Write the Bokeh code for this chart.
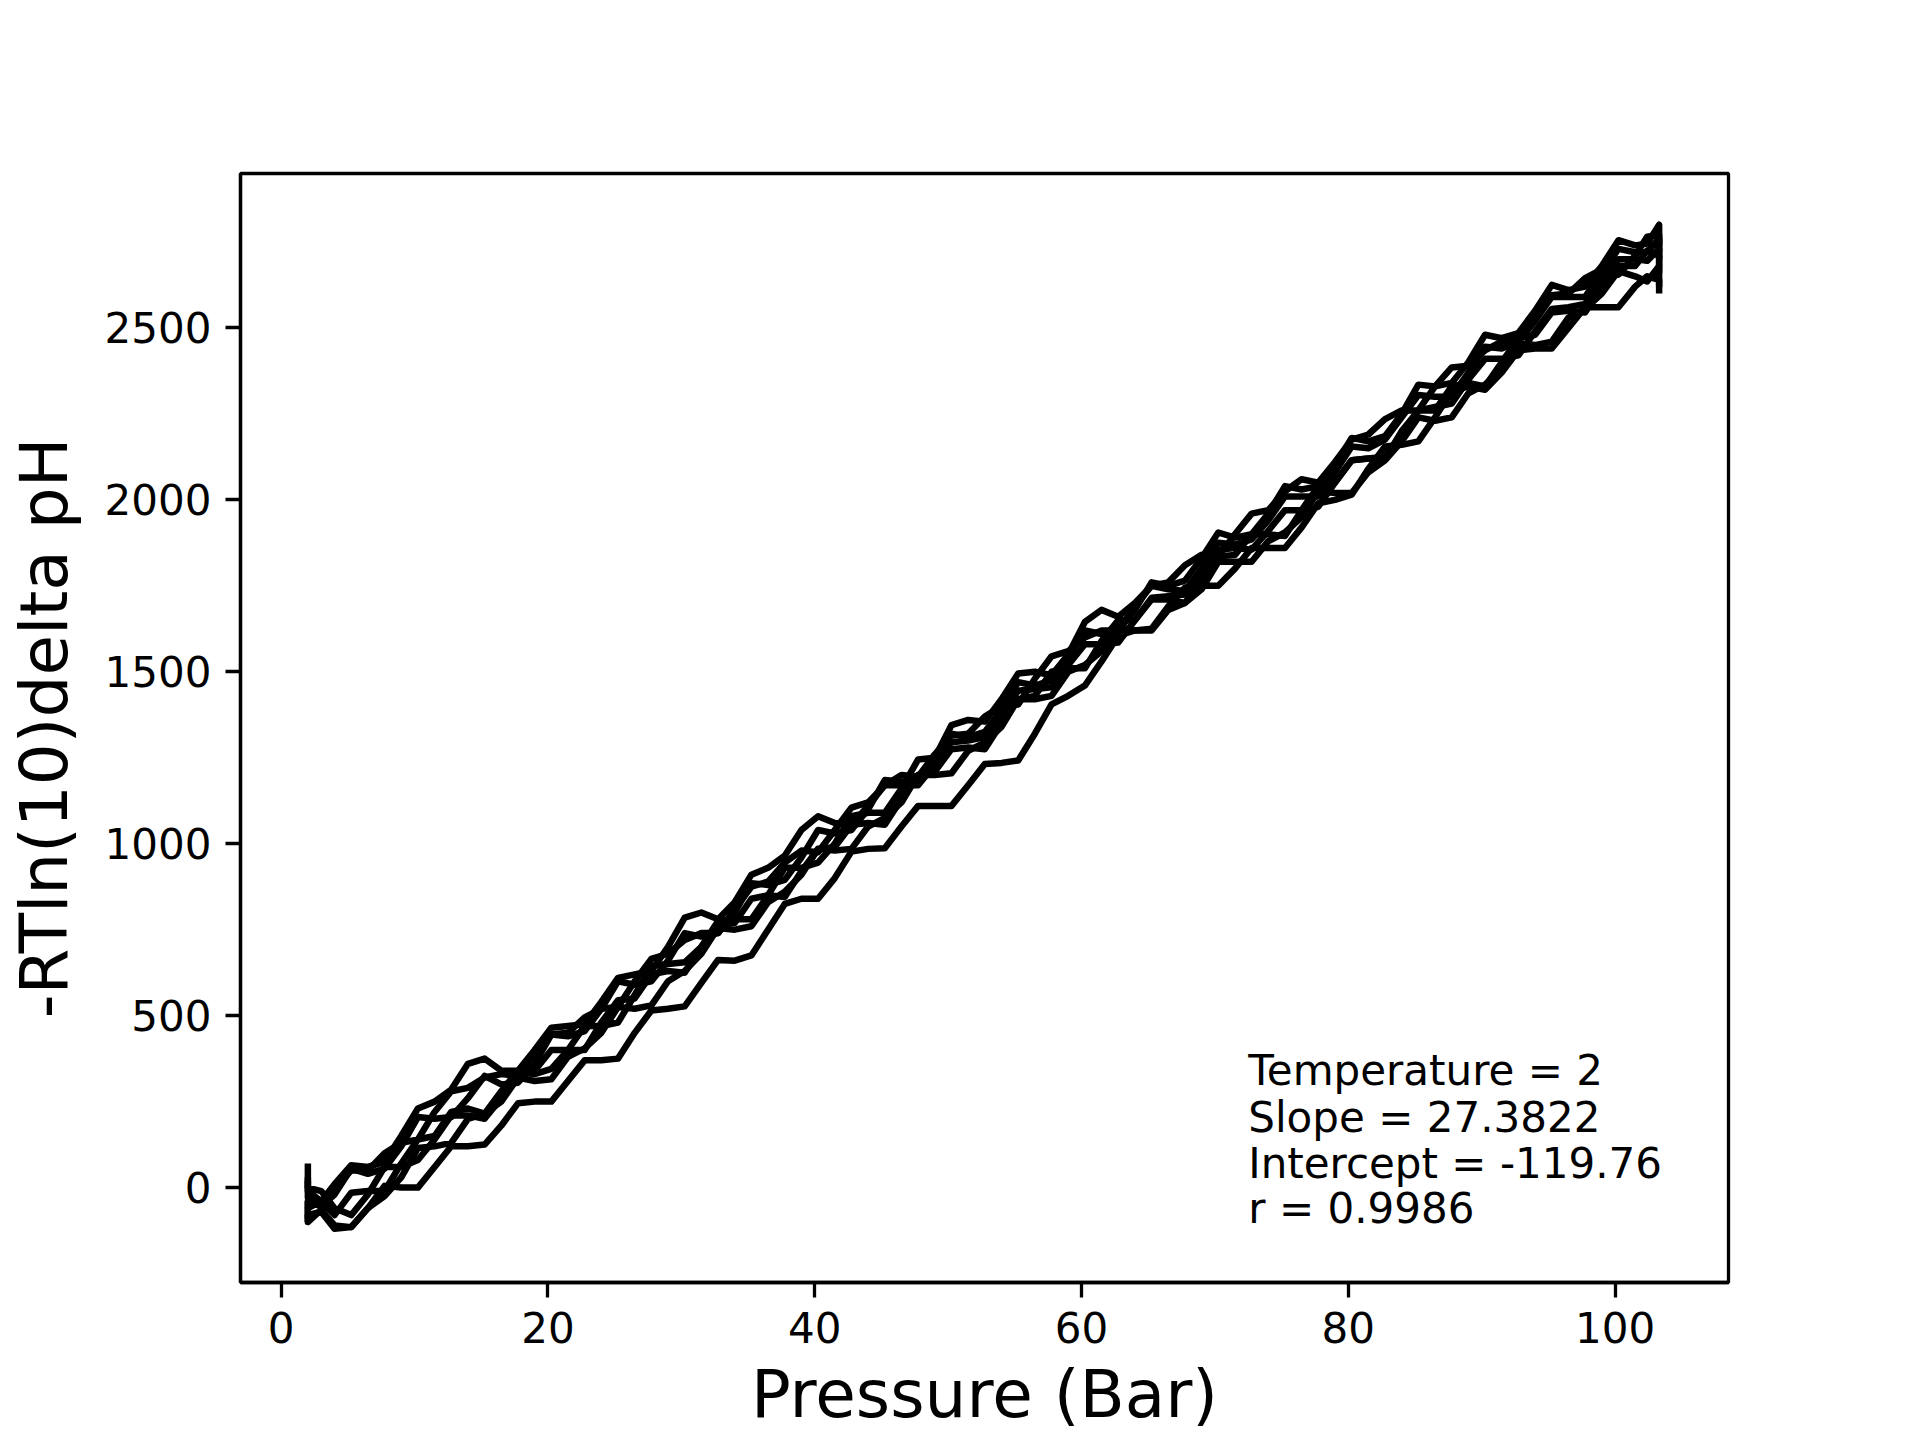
from bokeh.plotting import figure
from bokeh.models import Range1d, FixedTicker, Label
from bokeh.embed import file_html
from bokeh.resources import INLINE

# ---- data ----
pressure = [2, 2, 3, 4, 5.25, 6.5, 7.75, 9, 10.25, 11.5, 12.75, 14, 15.25, 16.5, 17.75,
            19, 20.25, 21.5, 22.75, 24, 25.25, 26.5, 27.75, 29, 30.25, 31.5, 32.75, 34,
            35.25, 36.5, 37.75, 39, 40.25, 41.5, 42.75, 44, 45.25, 46.5, 47.75, 49, 50.25,
            51.5, 52.75, 54, 55.25, 56.5, 57.75, 59, 60.25, 61.5, 62.75, 64, 65.25, 66.5,
            67.75, 69, 70.25, 71.5, 72.75, 74, 75.25, 76.5, 77.75, 79, 80.25, 81.5, 82.75,
            84, 85.25, 86.5, 87.75, 89, 90.25, 91.5, 92.75, 94, 95.25, 96.5, 97.75, 99,
            100.25, 101.5, 102.4, 103.3, 103.3]

run1 = [-100, -80, -70, -120, -115, -60, 5, 0, 0, 60, 120, 120, 125, 180, 245, 250, 250,
        310, 370, 370, 375, 450, 515, 520, 527, 595, 662, 660, 675, 750, 825, 840, 840, 900,
        977, 985, 987, 1050, 1110, 1110, 1110, 1170, 1232, 1235, 1242, 1320, 1405, 1430,
        1460, 1530, 1605, 1620, 1625, 1690, 1745, 1750, 1750, 1800, 1860, 1860, 1860, 1920,
        1990, 2000, 2015, 2090, 2155, 2160, 2170, 2240, 2315, 2330, 2320, 2370, 2435, 2440,
        2440, 2500, 2560, 2560, 2560, 2620, 2650, 2640, 2600]
run2 = [70, -30, -40, 10, 65, 60, 75, 150, 230, 250, 285, 360, 375, 340, 340, 400, 465,
        470, 475, 540, 610, 620, 630, 700, 785, 800, 780, 830, 910, 930, 965, 1040, 1080,
        1060, 1055, 1110, 1170, 1170, 1170, 1230, 1295, 1300, 1310, 1380, 1445, 1450, 1455,
        1520, 1580, 1580, 1585, 1650, 1715, 1720, 1725, 1790, 1855, 1860, 1855, 1910, 1970,
        1970, 1980, 2050, 2115, 2120, 2125, 2190, 2260, 2270, 2280, 2350, 2410, 2410, 2420,
        2490, 2555, 2560, 2570, 2640, 2700, 2700, 2695, 2730, 2680]
run3 = [20, 0, -10, -60, -80, -20, 60, 60, 80, 140, 210, 210, 200, 260, 335, 330, 345,
        400, 470, 470, 480, 560, 645, 650, 655, 700, 775, 780, 780, 850, 930, 930, 945,
        1000, 1080, 1090, 1090, 1160, 1245, 1250, 1345, 1360, 1355, 1420, 1495, 1500, 1490,
        1550, 1645, 1680, 1660, 1700, 1750, 1740, 1735, 1800, 1875, 1870, 1885, 1940, 2010,
        2010, 2010, 2080, 2155, 2150, 2175, 2240, 2305, 2300, 2300, 2370, 2445, 2440, 2460,
        2520, 2590, 2590, 2590, 2660, 2730, 2720, 2720, 2760, 2700]
run4 = [-60, -40, -55, -20, 55, 40, 55, 120, 205, 200, 205, 260, 325, 300, 305, 360, 445,
        440, 455, 520, 600, 590, 600, 660, 740, 730, 740, 800, 885, 880, 895, 960, 1040,
        1030, 1040, 1100, 1185, 1180, 1185, 1240, 1320, 1310, 1325, 1390, 1470, 1460, 1475,
        1540, 1620, 1610, 1620, 1680, 1760, 1750, 1765, 1830, 1905, 1890, 1900, 1960, 2040,
        2030, 2040, 2100, 2180, 2170, 2185, 2250, 2335, 2330, 2340, 2400, 2480, 2470, 2485,
        2550, 2625, 2610, 2620, 2680, 2755, 2740, 2745, 2800, 2740]
run5 = [-40, -100, -65, -110, -115, -60, -25, 30, 115, 120, 130, 200, 215, 250, 320, 310,
        315, 380, 405, 450, 525, 520, 530, 600, 630, 680, 755, 750, 760, 830, 860, 910, 985,
        980, 985, 1050, 1075, 1120, 1200, 1200, 1205, 1270, 1295, 1340, 1420, 1420, 1430,
        1500, 1520, 1560, 1630, 1620, 1620, 1680, 1700, 1740, 1820, 1820, 1820, 1880, 1905,
        1950, 2025, 2020, 2020, 2080, 2115, 2170, 2240, 2230, 2240, 2310, 2335, 2380, 2455,
        2450, 2460, 2530, 2555, 2600, 2665, 2650, 2635, 2680, 2620]
run6 = [30, -10, -40, 0, 50, 50, 100, 130, 140, 220, 280, 290, 320, 330, 325, 390, 445,
        450, 495, 520, 525, 600, 665, 680, 720, 740, 740, 810, 875, 890, 945, 980, 975,
        1040, 1105, 1120, 1170, 1200, 1195, 1260, 1315, 1320, 1370, 1400, 1405, 1480, 1545,
        1560, 1600, 1620, 1620, 1690, 1750, 1760, 1810, 1840, 1835, 1900, 1960, 1970, 2025,
        2060, 2050, 2110, 2175, 2190, 2235, 2260, 2260, 2330, 2385, 2390, 2435, 2460, 2465,
        2540, 2595, 2600, 2645, 2670, 2655, 2710, 2765, 2770, 2720]
run7 = [-90, -60, -40, -80, -15, -10, -10, 70, 140, 150, 220, 230, 215, 280, 340, 340,
        400, 400, 400, 480, 545, 550, 620, 630, 625, 700, 765, 770, 840, 850, 845, 920, 985,
        990, 1055, 1060, 1055, 1130, 1200, 1210, 1275, 1280, 1275, 1350, 1420, 1430, 1500,
        1510, 1510, 1590, 1650, 1650, 1710, 1710, 1700, 1770, 1835, 1840, 1900, 1900, 1895,
        1970, 2040, 2050, 2115, 2120, 2120, 2200, 2260, 2260, 2330, 2340, 2330, 2400, 2470,
        2480, 2545, 2550, 2545, 2620, 2680, 2680, 2725, 2710, 2660]
runs = [run1, run2, run3, run4, run5, run6, run7]

x_ticks = [0, 20, 40, 60, 80, 100]
y_ticks = [0, 500, 1000, 1500, 2000, 2500]

temperature = 2
slope = 27.3822
intercept = -119.76
r_value = 0.9986

for i, r in enumerate(runs):
    if len(r) != len(pressure):
        raise SystemExit(f"run{i+1} has {len(r)} values, pressure has {len(pressure)}")

FONT = "DejaVu Sans"

p = figure(frame_width=1488, frame_height=1109,
           x_range=Range1d(-3.05, 108.5), y_range=Range1d(-276, 2949),
           output_backend="svg", toolbar_location=None,
           min_border_left=240, min_border_right=184,
           min_border_top=173, min_border_bottom=150)

p.xgrid.visible = False
p.ygrid.visible = False
p.outline_line_color = "black"
p.outline_line_width = 3.3
p.outline_line_alpha = 1.0
p.background_fill_color = "white"
p.border_fill_color = "white"

for ys in runs:
    p.line(pressure, ys, line_color="black", line_width=6.5, line_join="round")

for ax, ticks in ((p.xaxis, x_ticks), (p.yaxis, y_ticks)):
    ax.ticker = FixedTicker(ticks=ticks)
    ax.minor_tick_line_color = None
    ax.major_tick_in = 0
    ax.major_tick_out = 15
    ax.major_tick_line_width = 3.3
    ax.axis_line_width = 3.3
    ax.major_label_standoff = 14
    ax.major_label_text_font = FONT
    ax.major_label_text_font_size = "42px"
    ax.major_label_text_color = "black"
    ax.axis_label_text_font = FONT
    ax.axis_label_text_font_size = "66px"
    ax.axis_label_text_font_style = "normal"
    ax.axis_label_text_color = "black"

p.xaxis.axis_label = "Pressure (Bar)"
p.yaxis.axis_label = "-RTln(10)delta pH"
p.xaxis.axis_label_standoff = 10
p.yaxis.axis_label_standoff = 19
p.xaxis.axis_label_text_line_height = 1.0
p.yaxis.axis_label_text_line_height = 1.0

lines = [f"Temperature = {temperature}", f"Slope = {slope}",
         f"Intercept = {intercept}", f"r = {r_value}"]
ypos = [340, 204, 70, -60]
for txt, yy in zip(lines, ypos):
    p.add_layout(Label(x=72.5, y=yy, text=txt, text_font=FONT,
                       text_font_size="42px", text_color="black",
                       text_baseline="middle", text_align="left"))

open("out.html", "w").write(file_html(p, INLINE))
